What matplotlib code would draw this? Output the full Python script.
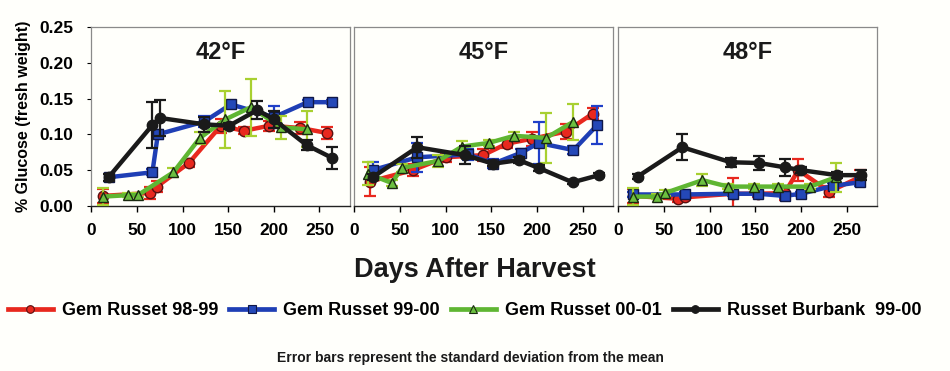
import numpy as np
import matplotlib.pyplot as plt
from matplotlib.lines import Line2D

plt.rcParams['font.family'] = ['Liberation Sans', 'DejaVu Sans']
plt.rcParams['font.weight'] = 'bold'

temps = ['42°F', '45°F', '48°F']
series_names = ['Gem Russet 98-99', 'Gem Russet 99-00', 'Gem Russet 00-01', 'Russet Burbank  99-00']

# 42F
red_42_x = [13, 64, 72, 107, 142, 167, 195, 229, 258]
red_42_y = [0.014, 0.018, 0.027, 0.060, 0.112, 0.105, 0.112, 0.109, 0.102]
red_42_e = [0.010, 0.008, 0.008, 0.005, 0.010, 0.005, 0.007, 0.008, 0.008]
blue_42_x = [19, 67, 73, 124, 153, 200, 237, 264]
blue_42_y = [0.040, 0.047, 0.100, 0.118, 0.142, 0.124, 0.145, 0.145]
blue_42_e = [0.005, 0.004, 0.006, 0.008, 0.004, 0.015, 0.003, 0.003]
green_42_x = [13, 40, 51, 90, 119, 147, 175, 208, 236]
green_42_y = [0.013, 0.015, 0.015, 0.047, 0.095, 0.121, 0.138, 0.110, 0.107]
green_42_e = [0.012, 0.003, 0.003, 0.006, 0.008, 0.040, 0.040, 0.016, 0.025]
black_42_x = [19, 67, 75, 124, 151, 182, 200, 236, 264]
black_42_y = [0.040, 0.113, 0.123, 0.114, 0.112, 0.134, 0.121, 0.085, 0.067]
black_42_e = [0.005, 0.032, 0.025, 0.010, 0.004, 0.012, 0.012, 0.007, 0.016]

# 45F
red_45_x = [17, 64, 100, 141, 167, 195, 232, 261]
red_45_y = [0.034, 0.050, 0.068, 0.071, 0.087, 0.094, 0.104, 0.129]
red_45_e = [0.020, 0.008, 0.006, 0.008, 0.006, 0.010, 0.010, 0.008]
blue_45_x = [20, 69, 125, 152, 182, 202, 240, 266]
blue_45_y = [0.050, 0.068, 0.072, 0.059, 0.074, 0.088, 0.078, 0.113]
blue_45_e = [0.012, 0.020, 0.008, 0.006, 0.005, 0.030, 0.006, 0.027]
green_45_x = [15, 41, 52, 92, 118, 147, 175, 210, 239]
green_45_y = [0.045, 0.032, 0.053, 0.063, 0.083, 0.088, 0.098, 0.095, 0.117]
green_45_e = [0.016, 0.004, 0.005, 0.008, 0.008, 0.004, 0.005, 0.035, 0.025]
black_45_x = [20, 69, 121, 152, 180, 202, 239, 268]
black_45_y = [0.040, 0.082, 0.071, 0.059, 0.064, 0.053, 0.033, 0.043]
black_45_e = [0.004, 0.015, 0.013, 0.003, 0.004, 0.004, 0.003, 0.003]

# 48F
red_48_x = [16, 65, 73, 125, 153, 182, 197, 231, 264]
red_48_y = [0.014, 0.010, 0.012, 0.017, 0.017, 0.018, 0.050, 0.020, 0.040]
red_48_e = [0.010, 0.004, 0.004, 0.022, 0.004, 0.010, 0.015, 0.008, 0.010]
blue_48_x = [16, 73, 125, 153, 182, 200, 235, 264]
blue_48_y = [0.016, 0.016, 0.017, 0.017, 0.014, 0.017, 0.028, 0.033]
blue_48_e = [0.003, 0.003, 0.003, 0.003, 0.003, 0.003, 0.004, 0.005]
green_48_x = [16, 42, 51, 92, 120, 148, 175, 210, 238]
green_48_y = [0.013, 0.013, 0.018, 0.036, 0.027, 0.027, 0.027, 0.027, 0.040]
green_48_e = [0.012, 0.003, 0.004, 0.008, 0.004, 0.004, 0.004, 0.004, 0.020]
black_48_x = [21, 70, 123, 154, 182, 200, 239, 266]
black_48_y = [0.041, 0.082, 0.061, 0.060, 0.054, 0.050, 0.043, 0.043]
black_48_e = [0.003, 0.018, 0.006, 0.010, 0.012, 0.004, 0.004, 0.007]

panels = [
    [(red_42_x, red_42_y, red_42_e), (blue_42_x, blue_42_y, blue_42_e),
     (green_42_x, green_42_y, green_42_e), (black_42_x, black_42_y, black_42_e)],
    [(red_45_x, red_45_y, red_45_e), (blue_45_x, blue_45_y, blue_45_e),
     (green_45_x, green_45_y, green_45_e), (black_45_x, black_45_y, black_45_e)],
    [(red_48_x, red_48_y, red_48_e), (blue_48_x, blue_48_y, blue_48_e),
     (green_48_x, green_48_y, green_48_e), (black_48_x, black_48_y, black_48_e)],
]

line_colors = ['#e8281e', '#1f3fb5', '#5fb632', '#1a1a1a']
err_colors = ['#e8281e', '#2040c8', '#a8d030', '#1a1a1a']
markers = ['o', 's', '^', 'o']
face_colors = ['#e8281e', '#2448b8', '#6cc040', '#1a1a1a']
edge_colors = ['#5a1010', '#101848', '#1a2a10', '#1a1a1a']

fig = plt.figure(figsize=(9.5, 3.71), dpi=100)
fig.patch.set_facecolor('#fffffb')

lefts = [0.096, 0.373, 0.651]
width = 0.272
bottom = 0.445
height = 0.482

for i, data in enumerate(panels):
    ax = fig.add_axes([lefts[i], bottom, width, height])
    ax.set_facecolor('#fffffb')
    for k, (x, y, e) in enumerate(data):
        ax.errorbar(x, y, yerr=e, fmt='none', ecolor=err_colors[k], elinewidth=1.6,
                    capsize=4, capthick=1.6, zorder=2 + k)
        ax.plot(x, y, color=line_colors[k], lw=3.2, marker=markers[k], ms=7.5,
                mfc=face_colors[k], mec=edge_colors[k], mew=1.0, zorder=3 + k)
    ax.set_xlim(0, 283)
    ax.set_ylim(0, 0.25)
    ax.set_xticks([0, 50, 100, 150, 200, 250])
    ax.tick_params(axis='x', direction='out', length=4, width=1, labelsize=12.5, pad=8)
    for lab in ax.get_xticklabels():
        lab.set_fontweight('bold')
    if i == 0:
        ax.set_yticks([0, 0.05, 0.10, 0.15, 0.20, 0.25])
        ax.set_yticklabels(['0.00', '0.05', '0.10', '0.15', '0.20', '0.25'],
                           fontsize=12.5, fontweight='bold')
        ax.tick_params(axis='y', direction='out', length=3, pad=10)
        ax.set_ylabel('% Glucose (fresh weight)', fontsize=11.5, fontweight='bold', labelpad=6)
    else:
        ax.set_yticks([])
    for s in ['top', 'right', 'left']:
        ax.spines[s].set_color('#8a8a8a')
        ax.spines[s].set_linewidth(0.9)
    ax.spines['bottom'].set_color('#222222')
    ax.spines['bottom'].set_linewidth(1.0)
    ax.text(0.5, 0.86, temps[i], transform=ax.transAxes, ha='center', va='center',
            fontsize=17, fontweight='bold', color='#1a1a1a')

fig.text(0.5, 0.272, 'Days After Harvest', ha='center', va='center',
         fontsize=19.5, fontweight='bold', color='#1a1a1a')

handles = []
for k in range(4):
    handles.append(Line2D([0], [0], color=line_colors[k], lw=3.4, marker=markers[k], ms=5.5,
                          mfc=face_colors[k], mec=edge_colors[k], mew=0.8))
fig.legend(handles, series_names, loc='center', bbox_to_anchor=(0.489, 0.163), ncol=4,
           frameon=False, handlelength=2.5, handletextpad=0.5,
           columnspacing=0.6, prop={'weight': 'bold', 'size': 13})

fig.text(0.495, 0.035, 'Error bars represent the standard deviation from the mean',
         ha='center', va='center', fontsize=10, fontweight='bold', color='#1a1a1a')

fig.savefig('out.png', dpi=100, facecolor=fig.get_facecolor())
